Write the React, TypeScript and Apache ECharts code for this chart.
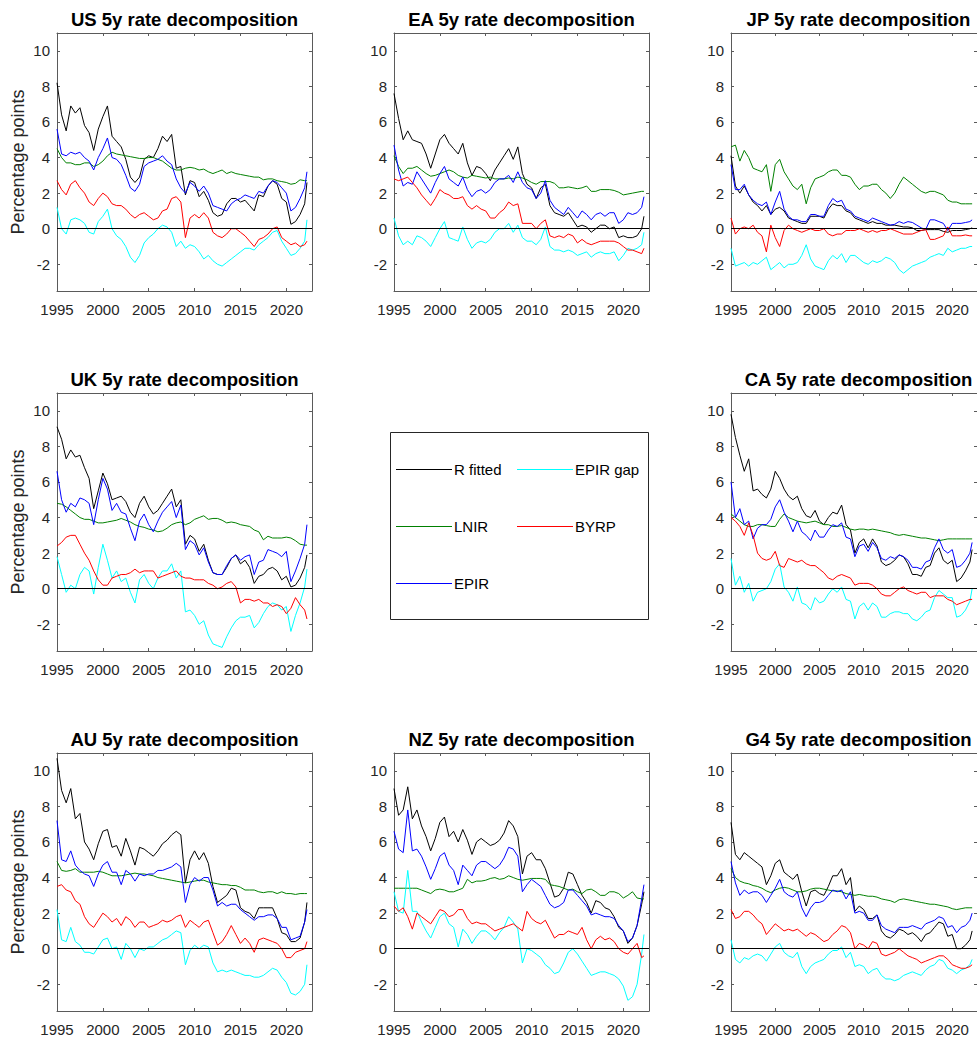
import React, { useEffect, useRef } from "react";
import * as echarts from "echarts";

const years = [
  1995, 1995.5, 1996, 1996.5, 1997, 1997.5, 1998, 1998.5, 1999, 1999.5,
  2000, 2000.5, 2001, 2001.5, 2002, 2002.5, 2003, 2003.5, 2004, 2004.5,
  2005, 2005.5, 2006, 2006.5, 2007, 2007.5, 2008, 2008.5, 2009, 2009.5,
  2010, 2010.5, 2011, 2011.5, 2012, 2012.5, 2013, 2013.5, 2014, 2014.5,
  2015, 2015.5, 2016, 2016.5, 2017, 2017.5, 2018, 2018.5, 2019, 2019.5,
  2020, 2020.5, 2021, 2021.5, 2022, 2022.25,
];

const xTicks = [1995, 2000, 2005, 2010, 2015, 2020];
const yTicks = [-2, 0, 2, 4, 6, 8, 10];

// ---------------- US ----------------
const usFitted = [
  8.2, 6.4, 5.5, 6.9, 6.5, 6.8, 5.8, 5.4, 4.4, 5.6,
  6.3, 6.9, 5.2, 4.9, 4.6, 3.9, 2.9, 2.6, 2.9, 3.9,
  4.1, 4.0, 4.5, 5.2, 4.9, 5.3, 3.4, 3.5, 1.9, 2.7,
  2.6, 1.8, 2.1, 1.6, 0.9, 0.7, 0.8, 1.4, 1.7, 1.7,
  1.5, 1.6, 1.3, 1.0, 1.9, 1.8, 2.4, 2.7, 2.5, 1.7,
  1.5, 0.25, 0.4, 0.8, 1.4, 2.6,
];
const usLnir = [
  4.5, 4.0, 3.7, 3.7, 3.6, 3.6, 3.7, 3.7, 3.5, 3.6,
  3.8, 4.1, 4.3, 4.2, 4.15, 4.1, 4.05, 4.0, 3.95, 3.95,
  4.0, 4.0, 3.9, 3.8, 3.6, 3.4, 3.3, 3.3, 3.4, 3.45,
  3.4, 3.3, 3.35, 3.2, 3.1, 3.2, 3.3, 3.1, 3.2, 3.1,
  3.05, 3.0, 2.95, 2.9, 2.9, 2.75, 2.8, 2.8, 2.7, 2.65,
  2.6, 2.5, 2.55, 2.75, 2.7, 2.7,
];
const usEpir = [
  5.6, 4.2, 4.1, 4.3, 4.2, 4.3, 4.0, 3.8, 3.3, 4.0,
  4.5, 5.1, 4.0, 3.9, 3.6, 3.0, 2.3, 2.1, 2.5, 3.5,
  3.7, 3.8, 3.9, 4.1, 3.8, 3.6, 2.8, 2.3, 2.0, 2.6,
  2.4, 2.1, 2.4, 2.0, 1.3, 1.2, 1.1, 1.0, 1.4, 1.6,
  1.7, 1.9, 1.8, 1.7, 2.1, 2.0, 2.4, 2.7, 2.6, 2.3,
  2.0, 1.0, 1.2, 1.7, 2.3, 3.2,
];
const usGap = [
  1.2, 0.0, -0.3, 0.5, 0.6, 0.5, 0.3, -0.2, -0.3, 0.4,
  0.7, 1.1, 0.0, -0.4, -0.6, -1.0, -1.6, -1.9, -1.5, -0.8,
  -0.5, -0.3, 0.0, 0.2, 0.1, -0.2, -1.0, -0.7, -1.1, -0.9,
  -1.0, -1.3, -1.7, -1.5, -1.8, -2.0, -2.1, -1.9, -1.7, -1.5,
  -1.3, -1.1, -1.1, -1.2, -0.9, -0.7, -0.5, -0.2, -0.1, -0.7,
  -1.1, -1.5, -1.4, -1.1, -0.7, 0.5,
];
const usByrp = [
  2.7, 2.2, 1.9, 2.5, 2.7, 2.3, 2.0, 1.5, 1.3, 1.7,
  2.0, 1.8, 1.4, 1.3, 1.3, 1.1, 0.8, 0.6, 0.8, 0.9,
  0.7, 0.5, 0.6, 1.0, 1.1, 1.7, 1.8, 1.5, -0.5, 0.6,
  0.8, 0.6, 0.9, 0.6, -0.2, -0.4, -0.5, -0.3, 0.0, 0.0,
  -0.2, -0.4, -0.7, -1.0, -0.6, -0.5, -0.3, 0.0, 0.1, -0.5,
  -0.7, -0.9, -0.8, -1.0, -0.9, -0.7,
];

// ---------------- EA ----------------
const eaFitted = [
  7.6, 6.2, 5.0, 5.5, 5.0, 4.9, 4.8, 4.2, 3.4, 4.2,
  5.0, 5.3, 4.8, 4.5, 4.2, 4.8, 3.7, 3.0, 3.5, 3.4,
  3.1, 2.7, 3.3, 3.7, 4.1, 4.5, 3.9, 4.6, 3.1, 2.5,
  2.3, 1.7, 2.3, 2.5, 1.3, 0.9, 0.8, 0.7, 0.9, 0.5,
  0.1, 0.2, 0.1, -0.2, 0.0, 0.2, 0.2, 0.0, 0.1, -0.5,
  -0.4, -0.5, -0.5, -0.4, 0.0, 0.7,
];
const eaLnir = [
  4.1, 3.5, 3.1, 3.4, 3.4, 3.5, 3.3, 3.1, 2.95, 3.0,
  3.1, 3.2, 3.3, 3.2, 3.0, 2.9, 2.85, 3.0, 2.95, 2.9,
  2.85, 2.9, 2.8, 2.8, 2.8, 2.85, 2.8, 2.9, 2.85, 2.75,
  2.6, 2.5, 2.65, 2.65, 2.65, 2.55, 2.3, 2.3, 2.35, 2.3,
  2.25, 2.3, 2.4, 2.1, 2.1, 2.2, 2.2, 2.2, 2.15, 2.05,
  1.9, 1.95, 2.0, 2.05, 2.1, 2.1,
];
const eaEpir = [
  4.7, 3.3, 2.4, 2.6, 2.5, 3.2, 2.8, 2.4, 2.0, 2.6,
  3.1, 3.5, 2.8, 2.6, 2.4, 2.9, 2.2, 1.8, 2.1, 2.2,
  2.0, 2.2, 2.6, 2.8, 2.8, 3.0, 2.6, 3.2, 2.6, 2.3,
  2.2, 1.7, 2.0, 2.7, 1.6, 1.2, 1.0, 0.8, 1.2, 0.9,
  0.6, 1.0, 0.8, 0.5, 0.8, 0.9, 0.7, 0.9, 0.9, 0.3,
  0.5, 0.9, 0.8, 0.9, 1.2, 1.8,
];
const eaGap = [
  0.6, -0.4, -0.9, -0.7, -0.9, -0.4, -0.5, -0.7, -1.0, -0.5,
  0.0, 0.4, -0.5, -0.6, -0.7, 0.1, -0.6, -1.1, -0.8, -0.7,
  -0.8, -0.6, -0.2, 0.0, 0.0, 0.3, -0.2, 0.2, -0.5, -0.7,
  -0.7, -0.9, -0.6, 0.1, -1.0, -1.2, -1.2, -1.3, -1.2, -1.3,
  -1.5, -1.4, -1.3, -1.6, -1.4, -1.3, -1.4, -1.4, -1.3, -1.8,
  -1.5, -1.1, -1.2, -1.1, -0.9, -0.2,
];
const eaByrp = [
  2.8, 2.7, 2.8, 2.9, 2.6, 2.3, 1.9, 1.6, 1.3, 1.7,
  2.2, 2.0, 1.9, 1.7, 1.7, 1.8, 1.3, 1.1, 1.3, 1.1,
  1.0, 0.6, 0.6, 0.9, 1.1, 1.5, 1.3, 1.4, 0.3, 0.3,
  0.3, 0.0, 0.3, 0.5, -0.4, -0.5, -0.4, -0.5, -0.3, -0.4,
  -0.8, -0.6, -0.8, -0.9, -0.8, -0.7, -0.7, -0.7, -0.7, -0.8,
  -1.0, -1.2, -1.2, -1.3, -1.4, -1.1,
];

// ---------------- JP ----------------
const jpFitted = [
  4.1, 2.4, 2.0, 2.4, 1.9, 1.5, 1.3, 1.0, 1.3, 0.8,
  1.1, 1.2, 1.0, 0.6, 0.5, 0.4, 0.3, 0.3, 0.7, 0.7,
  0.7, 0.6, 1.1, 1.4, 1.3, 1.3, 1.0, 0.9, 0.6, 0.5,
  0.4, 0.3, 0.4, 0.3, 0.3, 0.2, 0.2, 0.2, 0.15, 0.1,
  0.1, 0.05, -0.1, -0.1, -0.05, -0.05, -0.05, -0.05, -0.15, -0.2,
  -0.1, -0.1, -0.1, -0.05, 0.0, 0.05,
];
const jpLnir = [
  4.6, 4.7, 3.8, 4.4, 4.0, 3.4, 3.3, 3.2, 3.6, 2.1,
  3.6, 3.9, 3.2, 2.8, 2.4, 2.2, 2.5, 1.4, 2.3, 2.8,
  2.9, 3.0, 3.2, 3.3, 3.3, 3.0, 3.0, 2.9, 2.5, 2.2,
  2.4, 2.4, 2.5, 2.5, 2.2, 2.0, 1.7, 2.0, 2.5, 2.9,
  2.7, 2.5, 2.3, 2.1, 2.0, 2.1, 2.1, 2.0, 1.9, 1.6,
  1.5, 1.5, 1.4, 1.4, 1.4, 1.4,
];
const jpEpir = [
  3.6, 2.2, 2.2, 2.5, 1.9, 1.6, 1.4, 1.3, 1.5, 0.8,
  1.5, 2.1, 1.1, 0.7, 0.5, 0.5, 0.4, 0.4, 0.8, 0.8,
  0.7, 0.7, 1.3, 1.7, 1.5, 1.6, 1.1, 1.0, 0.7, 0.6,
  0.5, 0.4, 0.6, 0.5, 0.4, 0.3, 0.2, 0.25, 0.4, 0.3,
  0.4, 0.35, 0.2, 0.05, -0.05, 0.5, 0.5, 0.4, 0.3, -0.1,
  0.3, 0.3, 0.3, 0.35, 0.4, 0.5,
];
const jpGap = [
  -1.1, -2.1, -2.0, -1.9, -2.1, -1.9, -2.0, -1.8, -1.6, -2.3,
  -2.1, -1.9, -2.2, -2.0, -2.0, -1.9, -1.5, -0.9, -1.7, -2.1,
  -2.2, -2.3, -1.8, -1.5, -1.7, -1.4, -1.9, -1.5, -1.5, -1.7,
  -1.9, -2.0, -1.8, -1.9, -1.8, -1.6, -1.7, -1.9, -2.3, -2.5,
  -2.3, -2.1, -2.0, -1.9, -1.8, -1.6, -1.5, -1.4, -1.5, -1.1,
  -1.3, -1.2, -1.1, -1.1, -1.0, -1.0,
];
const jpByrp = [
  0.6, -0.3, 0.0, 0.1, 0.0, 0.2, -0.2, -0.4, -1.3, 0.2,
  -0.5, -1.0, -0.1, 0.2, 0.0, -0.1, -0.2, -0.1, 0.0, -0.1,
  -0.1, 0.0, -0.3, -0.4, -0.3, -0.3, -0.1, -0.1, -0.1, 0.0,
  -0.1, -0.2, -0.1, -0.2, -0.1, -0.1, 0.0, -0.1, -0.2, -0.3,
  -0.3, -0.3, -0.2, -0.1, -0.05, -0.6, -0.6, -0.5, -0.4, 0.1,
  -0.4, -0.4, -0.4, -0.35, -0.4, -0.4,
];

// ---------------- UK ----------------
const ukFitted = [
  9.1, 8.4, 7.3, 7.8, 7.4, 7.5, 6.8, 6.2, 4.5, 5.5,
  6.5, 5.9, 5.0, 5.1, 5.2, 4.9, 4.3, 4.0, 4.8, 5.2,
  4.6, 4.2, 4.4, 4.8, 5.2, 5.6, 4.6, 5.0, 2.5, 3.0,
  2.8, 2.1, 2.5, 1.6, 0.9, 0.8, 0.8, 1.2, 1.7, 1.9,
  1.4, 1.6, 1.2, 0.3, 0.7, 0.8, 1.1, 1.2, 1.0, 0.5,
  0.7, 0.1, 0.2, 0.6, 1.2, 1.9,
];
const ukLnir = [
  4.8, 4.75, 4.6, 4.4, 4.2, 4.0, 3.9, 3.9, 3.8, 3.7,
  3.7, 3.75, 3.8, 3.85, 3.95, 3.85, 3.75, 3.6, 3.5, 3.45,
  3.35, 3.3, 3.2, 3.25, 3.4, 3.6, 3.7, 3.75, 3.6, 3.7,
  3.9, 4.0, 4.1, 3.9, 3.95, 3.95, 3.85, 3.7, 3.75, 3.7,
  3.6, 3.55, 3.5, 3.3, 3.2, 2.75, 2.95, 2.85, 2.85, 2.85,
  2.9, 2.85, 2.7, 2.5, 2.45, 2.45,
];
const ukEpir = [
  6.6, 5.0, 4.3, 4.8, 4.6, 5.1, 5.0, 4.8, 3.6, 5.0,
  6.2, 5.6, 4.4, 4.8, 4.3, 4.2, 3.4, 2.7, 3.8, 4.2,
  3.6, 3.2, 3.8, 4.3, 4.6, 4.9, 4.0, 4.7, 2.2, 2.7,
  2.5, 1.9, 2.3, 1.5, 0.9, 0.8, 0.8, 1.3, 1.7, 1.9,
  1.6, 1.8, 1.9, 0.8, 1.5, 1.6, 2.2, 2.1, 2.0, 1.8,
  2.1, 0.4, 1.0, 1.7, 2.5, 3.6,
];
const ukGap = [
  1.8, 0.8, -0.2, 0.2, 0.0, 0.8, 1.2, 1.0, -0.3, 1.2,
  2.5, 1.6, 0.6, 1.0, 0.4, 0.6, -0.2, -0.8, 0.5, 0.8,
  0.3, 0.0, 0.6, 1.0, 1.0, 1.4, 0.6, 1.0, -1.3, -1.2,
  -1.5, -2.0, -1.8, -2.6, -3.1, -3.2, -3.3, -2.7, -2.2, -1.8,
  -1.6, -1.6, -1.5, -2.2, -1.9, -1.4, -1.0, -0.8, -0.9, -1.2,
  -1.0, -2.4, -1.5, -0.8, 0.1, 1.1,
];
const ukByrp = [
  2.4, 2.6, 2.9, 3.0, 3.0, 2.5, 2.0, 1.6, 1.0, 0.5,
  0.2, 0.2, 0.6, 0.7, 0.8, 0.8, 0.9, 1.1, 0.9, 1.0,
  1.0, 1.0, 0.6, 0.7, 0.8, 0.9, 1.0, 0.7, 0.6, 0.6,
  0.5, 0.5, 0.5, 0.3, 0.2, 0.0, 0.1, 0.3, 0.4, 0.1,
  -0.8, -0.6, -0.6, -0.7, -0.6, -0.8, -0.8, -1.0, -0.9, -1.0,
  -1.4, -1.1, -0.5, -0.9, -1.2, -1.7,
];

// ---------------- CA ----------------
const caFitted = [
  9.8, 8.5, 7.5, 6.6, 7.3, 5.5, 5.6, 5.3, 5.1, 5.6,
  6.6, 6.2, 5.6, 5.2, 5.0, 5.2, 4.5, 4.1, 4.0, 4.4,
  3.8, 3.6, 4.0, 4.3, 4.2, 4.7, 3.6, 3.3, 2.0, 2.6,
  2.8, 2.3, 2.8, 2.4, 1.5, 1.3, 1.4, 1.6, 1.9, 1.8,
  1.4, 0.8, 0.8, 0.7, 1.2, 1.3, 2.0, 2.3, 1.6, 1.4,
  1.6, 0.4, 0.6, 1.0, 1.5, 2.2,
];
const caLnir = [
  4.2, 4.0, 3.8, 3.6, 3.5, 3.5, 3.6, 3.6, 3.55, 3.5,
  3.5, 3.9, 4.2, 4.0, 3.9, 3.8, 3.75, 3.7, 3.75, 3.8,
  3.7, 3.6, 3.6, 3.5, 3.5, 3.55, 3.45, 3.35, 3.3, 3.35,
  3.35, 3.3, 3.35, 3.3, 3.25, 3.2, 3.15, 3.05, 3.0, 3.05,
  3.0, 2.95, 2.9, 2.85, 2.85, 2.8, 2.75, 2.7, 2.75, 2.8,
  2.8, 2.8, 2.8, 2.8, 2.8, 2.8,
];
const caEpir = [
  6.0, 4.0, 4.5, 3.6, 3.8, 2.8, 3.4, 3.6, 3.6, 3.9,
  4.6, 5.0, 4.3, 3.8, 3.2, 3.8, 3.2, 3.0, 2.7, 3.3,
  2.9, 2.9, 3.3, 3.6, 3.5, 3.7, 2.9, 2.8, 1.8, 2.4,
  2.5, 2.1, 2.6, 2.3, 1.7, 1.6, 1.8, 1.7, 1.9, 1.8,
  1.6, 1.2, 1.2, 1.1, 1.5, 1.6, 2.3, 2.8, 2.2, 2.0,
  2.2, 1.2, 1.3, 1.6, 2.0, 2.6,
];
const caGap = [
  1.7, 0.2, 0.7, -0.2, 0.3, -0.7, -0.2, -0.1, 0.0, 0.4,
  1.1, 1.4, 0.1, -0.2, -0.7, 0.1, -0.8, -0.9, -1.2, -0.5,
  -0.8, -0.7, -0.3, 0.0, -0.2, 0.1, -0.6, -0.7, -1.7, -1.0,
  -0.8, -1.2, -0.8, -1.0, -1.6, -1.6, -1.4, -1.3, -1.3, -1.4,
  -1.4, -1.7, -1.8, -1.6, -1.3, -1.2, -0.5, -0.1, -0.3, -0.5,
  -0.5, -1.6, -1.5, -1.2, -0.7, 0.0,
];
const caByrp = [
  4.0, 3.8, 3.5, 3.0, 3.7, 3.0, 2.0, 1.7, 1.6, 1.7,
  2.1, 1.3, 1.2, 1.7, 1.6, 1.5, 1.6, 1.4, 1.3, 1.3,
  1.1, 0.9, 0.6, 0.5, 0.7, 0.8, 0.7, 0.6, 0.2, 0.3,
  0.3, 0.3, 0.2, 0.0, -0.3, -0.4, -0.4, -0.2, 0.0, 0.1,
  -0.1, -0.2, -0.3, -0.2, -0.2, -0.5, -0.4, -0.4, -0.4, -0.6,
  -0.7, -0.9, -0.8, -0.7, -0.6, -0.6,
];

// ---------------- AU ----------------
const auFitted = [
  10.7, 8.9, 8.2, 9.0, 7.3, 7.6, 6.0, 5.6, 5.0, 5.9,
  6.6, 6.7, 5.7, 5.8, 5.2, 6.2, 5.5, 4.7, 5.7, 5.6,
  5.4, 5.2, 5.5, 5.9, 6.1, 6.4, 6.6, 6.4, 3.7, 5.0,
  5.5, 5.0, 5.4, 4.8, 3.5, 2.6, 2.8, 3.0, 3.4, 3.3,
  2.3, 2.1, 2.0, 1.7, 2.3, 2.3, 2.3, 2.3, 1.7, 0.9,
  0.8, 0.4, 0.4, 0.6, 1.5, 2.6,
];
const auLnir = [
  4.9, 4.4, 4.35, 4.4, 4.5, 4.3, 4.3, 4.3, 4.3, 4.35,
  4.3, 4.2, 4.1, 4.1, 4.1, 4.15, 4.2, 4.25, 4.2, 4.2,
  4.15, 4.1, 4.0, 3.95, 3.9, 3.85, 3.8, 3.75, 3.7, 3.75,
  3.8, 3.85, 3.85, 3.75, 3.7, 3.65, 3.6, 3.6, 3.55, 3.55,
  3.45, 3.3, 3.3, 3.3, 3.2, 3.15, 3.2, 3.2, 3.1, 3.2,
  3.1, 3.1, 3.05, 3.1, 3.1, 3.1,
];
const auEpir = [
  7.2, 5.0, 4.9, 5.5, 4.7, 4.4, 4.2, 4.1, 3.5, 4.2,
  4.7, 4.9, 4.3, 4.3, 3.6, 4.4, 4.2, 3.8, 4.2, 4.1,
  4.2, 4.2, 4.4, 4.4, 4.5, 4.6, 4.8, 4.6, 2.6, 3.6,
  4.0, 3.8, 4.0, 4.0, 3.3, 2.4, 2.6, 2.4, 2.5, 2.5,
  2.2, 2.0, 1.8, 1.6, 1.8, 1.8, 1.9, 1.9, 1.7, 1.2,
  1.2, 0.5, 0.6, 0.7, 1.5, 2.2,
];
const auGap = [
  2.2, 0.5, 0.4, 1.2, 0.4, 0.2, -0.2, -0.2, -0.3, 0.1,
  0.5, 0.6, 0.0, 0.1, -0.6, 0.3, 0.0, -0.5, 0.0, -0.1,
  0.1, 0.1, 0.3, 0.5, 0.6, 0.8, 1.0, 0.9, -0.9, -0.1,
  0.2, 0.0, 0.2, 0.1, -0.8, -1.3, -1.2, -1.3, -1.2, -1.3,
  -1.4, -1.5, -1.5, -1.6, -1.6, -1.5, -1.3, -1.1, -1.2, -1.6,
  -1.9, -2.5, -2.6, -2.4, -2.0, -0.9,
];
const auByrp = [
  3.5, 3.6, 3.3, 3.2, 2.7, 2.5, 1.8, 1.4, 1.2, 1.6,
  2.0, 1.8, 1.5, 1.7, 1.3, 1.8, 1.6, 1.2, 1.5, 1.5,
  1.2, 1.3, 1.4, 1.6, 1.5, 1.6, 1.8, 1.9, 1.2, 1.6,
  1.4, 1.2, 1.5, 1.6, 0.9, 0.2, 0.4, 0.8, 1.3, 0.8,
  0.3, 0.6, 0.3, -0.2, 0.5, 0.6, 0.5, 0.4, 0.3, 0.0,
  -0.5, -0.5, -0.2, -0.1, 0.0, 0.4,
];

// ---------------- NZ ----------------
const nzFitted = [
  9.0, 7.5, 7.8, 9.1, 7.3, 7.8, 6.9, 6.3, 5.5, 6.2,
  7.1, 7.4, 6.3, 6.6, 6.0, 6.7, 6.1, 5.3, 6.0, 6.2,
  6.0, 5.8, 5.9, 6.1, 6.5, 7.2, 6.9, 6.3, 4.2, 5.2,
  5.4, 5.0, 5.0, 4.5, 3.7, 2.9, 3.0, 3.4, 4.3, 4.2,
  3.6, 3.0, 2.6, 2.0, 2.7, 2.6, 2.3, 2.2, 1.8, 1.2,
  1.0, 0.3, 0.6, 1.3, 2.5, 3.2,
];
const nzLnir = [
  3.4, 3.4, 3.4, 3.4, 3.4, 3.4, 3.3, 3.2, 3.1, 3.3,
  3.35, 3.3, 3.2, 3.2, 3.3, 3.4, 3.9, 3.7, 3.8, 3.8,
  3.85, 3.95, 4.0, 3.9, 3.95, 4.1, 4.0, 3.9, 3.85, 3.9,
  3.95, 3.95, 3.95, 3.9, 3.6, 3.55, 3.5, 3.4, 3.3, 3.35,
  3.2, 3.1, 3.3, 3.35, 3.2, 3.0, 3.0, 3.2, 3.2, 3.1,
  2.85, 3.0, 3.2, 2.85, 2.8, 2.8,
];
const nzEpir = [
  6.6, 5.6, 5.4, 7.8, 5.5, 5.6, 5.2, 4.6, 3.9, 4.5,
  5.2, 5.4, 4.7, 4.4, 3.6, 4.7, 4.4, 4.1, 4.7, 4.9,
  4.9, 4.7, 4.5, 4.7, 5.1, 5.7, 5.6, 5.2, 3.2, 3.6,
  3.9, 3.7, 3.5, 3.0, 2.5, 2.3, 2.4, 2.6, 3.3, 3.3,
  3.0, 2.7, 2.4, 1.9, 2.0, 1.9, 1.8, 1.8, 1.7, 1.3,
  1.0, 0.4, 0.6, 1.3, 2.8, 3.6,
];
const nzGap = [
  3.2, 2.1, 2.0, 4.4, 2.1, 2.1, 1.5, 1.0, 0.6, 1.2,
  1.8, 2.0, 1.4, 1.2, 0.1, 1.1, 0.8, 0.3, 0.7, 1.0,
  1.0, 0.8, 0.5, 0.9, 1.2, 1.8, 1.5, 1.1, -0.8, 0.0,
  -0.1, -0.3, -0.5, -0.9, -1.1, -1.4, -1.3, -0.8, -0.2, 0.0,
  -0.3, -0.7, -1.1, -1.5, -1.4, -1.3, -1.3, -1.4, -1.5, -1.7,
  -2.1, -2.9, -2.7, -2.0, -0.3, 0.8,
];
const nzByrp = [
  2.4, 2.1, 2.3, 1.8, 1.1, 2.0, 1.8, 1.6, 1.4, 1.8,
  2.2, 2.1, 1.8, 1.9, 2.2, 2.2, 1.7, 1.4, 1.5, 1.4,
  1.4, 1.2, 1.0, 1.1, 1.2, 1.3, 1.4, 1.2, 1.0, 2.1,
  1.7, 1.5, 1.4, 1.6, 1.1, 0.6, 0.8, 0.8, 1.0, 0.9,
  0.8, 1.2, 0.5, 0.0, 0.5, 0.7, 0.5, 0.6, 0.4, 0.0,
  -0.2, -0.3, 0.0, 0.3, -0.5, -0.4,
];

// ---------------- G4 ----------------
const g4Fitted = [
  7.1, 5.3, 5.0, 5.4, 5.2, 5.0, 4.8, 4.6, 3.6, 4.1,
  4.8, 5.0, 4.3, 4.1, 3.9, 4.2, 3.2, 2.4, 3.2, 3.3,
  3.1, 3.0, 3.5, 4.1, 4.1, 4.5, 3.6, 4.0, 2.1, 2.4,
  2.2, 1.7, 1.7, 1.9, 1.0, 0.7, 0.6, 0.8, 1.1, 1.0,
  0.8, 0.9, 0.7, 0.4, 0.8, 0.9, 1.2, 1.5, 1.4, 0.7,
  0.8, 0.0, 0.0, 0.2, 0.5, 1.0,
];
const g4Lnir = [
  4.5, 4.0, 3.8, 3.7, 3.65, 3.55, 3.5, 3.4, 3.25, 3.15,
  3.3, 3.4, 3.45, 3.4, 3.3, 3.2, 3.2, 3.25, 3.35, 3.4,
  3.4, 3.35, 3.3, 3.25, 3.25, 3.2, 3.1, 3.05, 3.0, 3.05,
  3.0, 2.95, 2.95, 2.9, 2.8, 2.75, 2.7, 2.6, 2.75, 2.8,
  2.75, 2.7, 2.65, 2.6, 2.55, 2.5, 2.5, 2.45, 2.4, 2.35,
  2.25, 2.2, 2.25, 2.3, 2.3, 2.3,
];
const g4Epir = [
  4.9, 3.7, 3.0, 3.3, 3.1, 3.2, 3.2, 3.0, 2.6, 3.0,
  3.4, 3.9, 3.2, 3.0, 2.9, 3.2, 2.3, 1.8, 2.3, 2.6,
  2.6, 2.7, 3.0, 3.3, 3.2, 3.3, 2.8, 3.2, 2.0, 2.1,
  2.0, 1.6, 1.6, 1.9, 1.3, 1.1, 1.0, 0.9, 1.2, 1.2,
  1.2, 1.3, 1.2, 1.1, 1.4, 1.5, 1.6, 1.8, 1.7, 1.2,
  1.3, 0.9, 1.2, 1.3, 1.6, 2.0,
];
const g4Gap = [
  0.5, -0.6, -0.8, -0.5, -0.6, -0.4, -0.3, -0.4, -0.7, -0.3,
  0.1, 0.3, -0.2, -0.4, -0.5, -0.2, -1.0, -1.4, -1.0, -0.8,
  -0.7, -0.6, -0.3, -0.1, -0.1, 0.1, -0.5, -0.2, -1.0, -0.9,
  -1.0, -1.4, -1.2, -1.1, -1.5, -1.7, -1.7, -1.8, -1.7, -1.5,
  -1.4, -1.3, -1.4, -1.5, -1.2, -1.0, -0.9, -0.6, -0.7, -1.1,
  -1.2, -1.4, -1.2, -1.1, -0.9, -0.6,
];
const g4Byrp = [
  2.2, 1.7, 1.8, 2.1, 2.1, 1.9, 1.6, 1.4, 0.8, 1.1,
  1.4, 1.2, 1.0, 1.1, 1.0, 1.1, 0.9, 0.7, 0.9, 0.8,
  0.6, 0.4, 0.5, 0.8, 1.0, 1.3, 1.2, 0.9, 0.0, 0.3,
  0.2, 0.0, 0.4, 0.3, -0.3, -0.4, -0.3, -0.2, 0.0, -0.2,
  -0.4, -0.5, -0.6, -0.8, -0.7, -0.6, -0.5, -0.4, -0.4, -0.6,
  -0.9, -1.0, -1.1, -1.1, -1.0, -0.9,
];

const panels = [
  { title: "US 5y rate decomposition", row: 0, col: 0, fitted: usFitted, lnir: usLnir, epir: usEpir, gap: usGap, byrp: usByrp },
  { title: "EA 5y rate decomposition", row: 0, col: 1, fitted: eaFitted, lnir: eaLnir, epir: eaEpir, gap: eaGap, byrp: eaByrp },
  { title: "JP 5y rate decomposition", row: 0, col: 2, fitted: jpFitted, lnir: jpLnir, epir: jpEpir, gap: jpGap, byrp: jpByrp },
  { title: "UK 5y rate decomposition", row: 1, col: 0, fitted: ukFitted, lnir: ukLnir, epir: ukEpir, gap: ukGap, byrp: ukByrp },
  { title: "CA 5y rate decomposition", row: 1, col: 2, fitted: caFitted, lnir: caLnir, epir: caEpir, gap: caGap, byrp: caByrp },
  { title: "AU 5y rate decomposition", row: 2, col: 0, fitted: auFitted, lnir: auLnir, epir: auEpir, gap: auGap, byrp: auByrp },
  { title: "NZ 5y rate decomposition", row: 2, col: 1, fitted: nzFitted, lnir: nzLnir, epir: nzEpir, gap: nzGap, byrp: nzByrp },
  { title: "G4 5y rate decomposition", row: 2, col: 2, fitted: g4Fitted, lnir: g4Lnir, epir: g4Epir, gap: g4Gap, byrp: g4Byrp },
];

const seriesMeta = [
  { key: "fitted", name: "R fitted", color: "#000000" },
  { key: "lnir", name: "LNIR", color: "#008000" },
  { key: "epir", name: "EPIR", color: "#0000ff" },
  { key: "gap", name: "EPIR gap", color: "#00ffff" },
  { key: "byrp", name: "BYRP", color: "#ff0000" },
];

// legend reading order: R fitted, EPIR gap / LNIR, BYRP / EPIR
const legendOrder = ["fitted", "gap", "lnir", "byrp", "epir"];

const FONT = '"Liberation Sans", Arial, Helvetica, sans-serif';
const AXIS_COLOR = "#5a5a5a";
const LABEL_COLOR = "#262626";
const COL_LEFT = [57, 394, 731];
const ROW_TOP = [33, 393, 753];
const GW = 255;
const GH = 258;
const X_MIN = 1995;
const X_MAX = 2022.8;
const Y_MIN = -3.5;
const Y_MAX = 11;

function buildOption() {
  const grid: any[] = [];
  const xAxis: any[] = [];
  const yAxis: any[] = [];
  const series: any[] = [];
  const title: any[] = [];

  panels.forEach((p, i) => {
    const left = COL_LEFT[p.col];
    const top = ROW_TOP[p.row];
    grid.push({ left, top, width: GW, height: GH, show: false });

    title.push({
      text: p.title,
      left: left + GW / 2,
      top: top - 23,
      textAlign: "center",
      padding: 0,
      textStyle: { fontSize: 18.5, fontWeight: "bold", color: "#000", fontFamily: FONT },
    });

    const xCommon = {
      type: "value",
      gridIndex: i,
      min: X_MIN,
      max: X_MAX,
      splitLine: { show: false },
      axisLine: { show: true, onZero: false, lineStyle: { color: AXIS_COLOR, width: 1 } },
      axisTick: { show: true, inside: true, length: 3, customValues: xTicks, lineStyle: { color: AXIS_COLOR } },
    };
    xAxis.push({
      ...xCommon,
      position: "bottom",
      axisLabel: {
        show: true,
        customValues: xTicks,
        formatter: (v: number) => String(v),
        color: LABEL_COLOR,
        fontSize: 15,
        fontFamily: FONT,
        margin: 11,
      },
    });
    xAxis.push({ ...xCommon, position: "top", axisLabel: { show: false } });

    const yCommon = {
      type: "value",
      gridIndex: i,
      min: Y_MIN,
      max: Y_MAX,
      splitLine: { show: false },
      axisLine: { show: true, onZero: false, lineStyle: { color: AXIS_COLOR, width: 1 } },
      axisTick: { show: true, inside: true, length: 3, customValues: yTicks, lineStyle: { color: AXIS_COLOR } },
    };
    yAxis.push({
      ...yCommon,
      position: "left",
      name: p.col === 0 ? "Percentage points" : "",
      nameLocation: "middle",
      nameGap: 30,
      nameTextStyle: { fontSize: 18, color: LABEL_COLOR, fontFamily: FONT },
      axisLabel: {
        show: true,
        customValues: yTicks,
        formatter: (v: number) => String(v),
        color: LABEL_COLOR,
        fontSize: 15,
        fontFamily: FONT,
        margin: 7,
      },
    });
    yAxis.push({ ...yCommon, position: "right", axisLabel: { show: false } });

    seriesMeta.forEach((m, k) => {
      const vals: number[] = (p as any)[m.key];
      const s: any = {
        type: "line",
        name: m.name,
        xAxisIndex: 2 * i,
        yAxisIndex: 2 * i,
        data: years.map((yr, j) => [yr, vals[j]]),
        showSymbol: false,
        symbol: "none",
        silent: true,
        lineStyle: { width: 1, color: m.color },
        itemStyle: { color: m.color },
      };
      if (k === seriesMeta.length - 1) {
        s.markLine = {
          silent: true,
          symbol: ["none", "none"],
          label: { show: false },
          lineStyle: { color: "#000", width: 1, type: "solid" },
          data: [{ yAxis: 0 }],
        };
      }
      series.push(s);
    });
  });

  // legend drawn as graphic elements (box with 2 columns)
  const slots = [
    [396, 469],
    [517, 469],
    [396, 526],
    [517, 526],
    [396, 583],
  ];
  const legendEls: any[] = [
    {
      type: "rect",
      shape: { x: 390.5, y: 432.5, width: 258, height: 187 },
      style: { fill: "#fff", stroke: "#262626", lineWidth: 1 },
    },
  ];
  legendOrder.forEach((key, idx) => {
    const m = seriesMeta.find((s) => s.key === key)!;
    const [x, y] = slots[idx];
    legendEls.push({
      type: "line",
      shape: { x1: x, y1: y + 0.5, x2: x + 56, y2: y + 0.5 },
      style: { stroke: m.color, lineWidth: 1 },
    });
    legendEls.push({
      type: "text",
      x: x + 58,
      y: y,
      style: {
        text: m.name,
        fill: "#000",
        fontSize: 15,
        fontFamily: FONT,
        align: "left",
        verticalAlign: "middle",
      },
    });
  });

  return {
    animation: false,
    backgroundColor: "#ffffff",
    textStyle: { fontFamily: FONT },
    title,
    grid,
    xAxis,
    yAxis,
    series,
    graphic: [{ type: "group", children: legendEls }],
  };
}

export default function App() {
  const ref = useRef<HTMLDivElement>(null);
  useEffect(() => {
    if (!ref.current) return;
    const chart = echarts.init(ref.current, undefined, { renderer: "svg" });
    chart.setOption(buildOption() as any);
    return () => chart.dispose();
  }, []);
  return (
    <div
      ref={ref}
      style={{ position: "fixed", left: 0, top: 0, width: "977px", height: "1037px", background: "#fff" }}
    />
  );
}
